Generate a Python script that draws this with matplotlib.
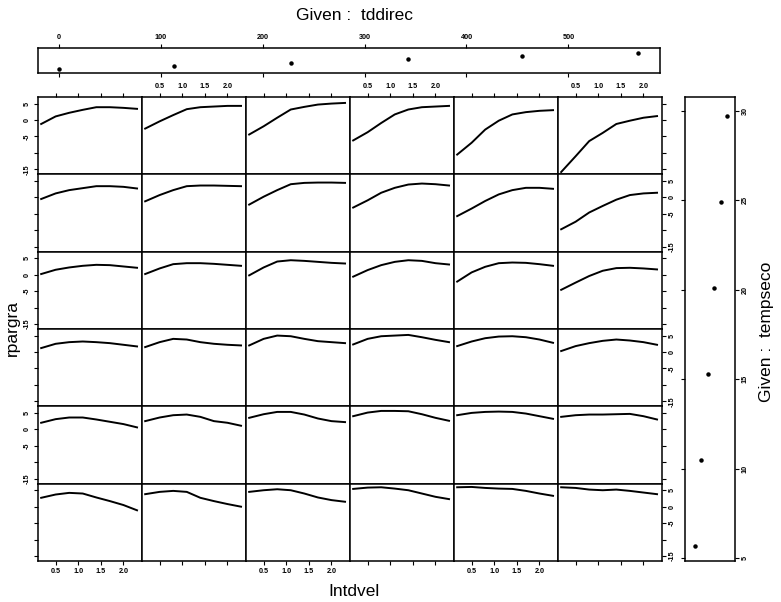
import numpy as np
import matplotlib.pyplot as plt

plt.rcParams['font.family'] = ['Liberation Sans', 'DejaVu Sans']

W, H = 781, 602

# conditioning values
tddirec_given = [0, 113, 228, 343, 455, 568]
tempseco_given = [5.7, 10.5, 15.3, 20.1, 24.9, 29.7]

# Intdvel positions where the fitted curves were read
intdvel = [0.18, 0.5, 0.8, 1.1, 1.4, 1.7, 2.0, 2.3]

# fitted rpargra, one list per column (tddirec low -> high)
# rows from top (tempseco high) to bottom (tempseco low)
row1 = [[-1.2, 1.1, 2.2, 3.1, 3.9, 3.9, 3.7, 3.4],
        [-2.6, -0.4, 1.5, 3.3, 3.9, 4.1, 4.3, 4.3],
        [-4.4, -1.9, 0.7, 3.2, 4.0, 4.7, 5.0, 5.2],
        [-6.2, -3.7, -0.9, 1.7, 3.2, 3.9, 4.1, 4.3],
        [-10.5, -6.9, -2.9, -0.2, 1.7, 2.4, 2.8, 3.0],
        [-15.8, -11.0, -6.4, -3.9, -1.2, -0.2, 0.7, 1.2]]
row2 = [[-0.5, 1.2, 2.2, 2.8, 3.4, 3.4, 3.2, 2.7],
        [-1.2, 0.7, 2.2, 3.4, 3.6, 3.6, 3.5, 3.4],
        [-2.2, 0.2, 2.2, 4.0, 4.4, 4.5, 4.5, 4.4],
        [-3.1, -0.9, 1.4, 2.9, 3.9, 4.2, 4.0, 3.6],
        [-5.7, -3.4, -1.1, 0.9, 2.2, 2.9, 2.9, 2.6],
        [-9.7, -7.4, -4.6, -2.6, -0.7, 0.7, 1.2, 1.4]]
row3 = [[0.2, 1.5, 2.2, 2.7, 3.0, 2.9, 2.5, 2.1],
        [0.2, 1.9, 3.2, 3.5, 3.5, 3.3, 3.0, 2.7],
        [-0.2, 2.2, 4.0, 4.4, 4.2, 3.9, 3.6, 3.4],
        [-0.6, 1.4, 2.9, 3.9, 4.4, 4.2, 3.5, 3.1],
        [-2.1, 0.7, 2.4, 3.5, 3.7, 3.6, 3.2, 2.7],
        [-4.6, -2.4, -0.4, 1.2, 2.0, 2.1, 1.9, 1.6]]
row4 = [[1.2, 2.5, 3.0, 3.2, 3.0, 2.7, 2.2, 1.7],
        [1.5, 3.0, 4.0, 3.8, 3.0, 2.5, 2.2, 2.0],
        [2.0, 4.0, 5.0, 4.8, 4.0, 3.3, 3.0, 2.7],
        [2.3, 4.0, 4.8, 5.0, 5.2, 4.5, 3.7, 3.0],
        [1.8, 3.2, 4.2, 4.7, 4.8, 4.5, 3.8, 2.8],
        [0.3, 1.8, 2.7, 3.4, 3.8, 3.5, 3.0, 2.2]]
row5 = [[2.0, 3.1, 3.6, 3.6, 3.0, 2.3, 1.6, 0.6],
        [2.5, 3.6, 4.3, 4.5, 3.8, 2.5, 2.0, 1.1],
        [3.5, 4.6, 5.3, 5.3, 4.5, 3.3, 2.5, 2.2],
        [4.0, 5.1, 5.6, 5.6, 5.5, 4.6, 3.5, 2.6],
        [4.3, 5.0, 5.3, 5.4, 5.3, 4.8, 4.0, 3.2],
        [3.8, 4.3, 4.5, 4.5, 4.6, 4.7, 4.0, 3.0]]
row6 = [[2.7, 3.7, 4.2, 4.0, 2.8, 1.7, 0.5, -1.1],
        [3.8, 4.5, 4.8, 4.5, 2.7, 1.7, 0.8, 0.0],
        [4.5, 5.0, 5.3, 5.0, 4.0, 2.8, 2.0, 1.5],
        [5.4, 5.8, 5.9, 5.5, 5.0, 4.0, 3.0, 2.3],
        [5.9, 6.0, 5.7, 5.5, 5.4, 4.8, 4.0, 3.3],
        [5.9, 5.7, 5.2, 5.0, 5.2, 4.8, 4.3, 3.8]]
rows = [row1, row2, row3, row4, row5, row6]

x_ticks = [0.5, 1.0, 1.5, 2.0]
x_ticklabels = ['0.5', '1.0', '1.5', '2.0']
y_ticks = [-15, -10, -5, 0, 5]
y_ticklabels = ['-15', '', '-5', '0', '5']


def box(l, t, r, b):
    return [l / W, 1 - b / H, (r - l) / W, (b - t) / H]


def bold_ticks(ax):
    for lab in ax.get_xticklabels() + ax.get_yticklabels():
        lab.set_fontweight('bold')


fig = plt.figure(figsize=(W / 100, H / 100), dpi=100)

tick_kw = dict(direction='out', length=3, width=0.8, labelsize=5.2, pad=2)

#%% main panels
left, top = 38, 97
cw, rh = 104, 77.33
for r in range(6):
    for c in range(6):
        ax = fig.add_axes(box(left + c * cw, top + r * rh,
                              left + (c + 1) * cw, top + (r + 1) * rh))
        ax.plot(intdvel, rows[r][c], 'k-', lw=1.4)
        ax.set_xlim(0.11, 2.41)
        ax.set_ylim(-16.5, 7.0)
        ax.set_xticks(x_ticks)
        ax.set_xticklabels(x_ticklabels)
        ax.set_yticks(y_ticks)
        ax.set_yticklabels(y_ticklabels)
        ax.tick_params(**tick_kw)
        ax.tick_params(axis='x', top=(r == 0), bottom=(r == 5),
                       labeltop=(r == 0 and c % 2 == 1),
                       labelbottom=(r == 5 and c % 2 == 0))
        ax.tick_params(axis='y', left=(c == 0), right=(c == 5),
                       labelleft=(c == 0 and r % 2 == 0),
                       labelright=(c == 5 and r % 2 == 1),
                       labelrotation=90)
        for lab in ax.get_yticklabels():
            lab.set_va('center')
        bold_ticks(ax)
        for s in ax.spines.values():
            s.set_linewidth(1.1)

#%% given panel: tddirec
axt = fig.add_axes(box(38, 48, 660, 73.3))
axt.plot(tddirec_given, range(1, 7), 'ko', ms=2.2)
axt.set_xlim(-20.6, 590)
axt.set_ylim(-0.23, 7.5)
axt.set_xticks([0, 100, 200, 300, 400, 500])
axt.set_yticks([])
axt.tick_params(**tick_kw)
axt.tick_params(axis='x', top=True, bottom=True, labeltop=True, labelbottom=False)
bold_ticks(axt)
for s in axt.spines.values():
    s.set_linewidth(1.1)

#%% given panel: tempseco
axr = fig.add_axes(box(685, 96.7, 735, 560.7))
axr.plot(range(1, 7), tempseco_given, 'ko', ms=2.2)
axr.set_xlim(-0.56, 7.25)
axr.set_ylim(4.87, 30.78)
axr.set_yticks([5, 10, 15, 20, 25, 30])
axr.set_xticks([])
axr.tick_params(**tick_kw)
axr.tick_params(axis='y', left=True, right=True, labelleft=False, labelright=True,
                labelrotation=90)
for lab in axr.get_yticklabels():
    lab.set_va('center')
bold_ticks(axr)
for s in axr.spines.values():
    s.set_linewidth(1.1)

#%% labels
fig.text(354 / W, 1 - 15 / H, 'Given :  tddirec', ha='center', va='center', fontsize=12.5)
fig.text(354 / W, 1 - 592 / H, 'Intdvel', ha='center', va='center', fontsize=12.5)
fig.text(12 / W, 1 - 328 / H, 'rpargra', ha='center', va='center', fontsize=12.5, rotation=90)
fig.text(766 / W, 1 - 332 / H, 'Given :  tempseco', ha='center', va='center', fontsize=12.5,
         rotation=90)

fig.savefig('out.png', dpi=100)
